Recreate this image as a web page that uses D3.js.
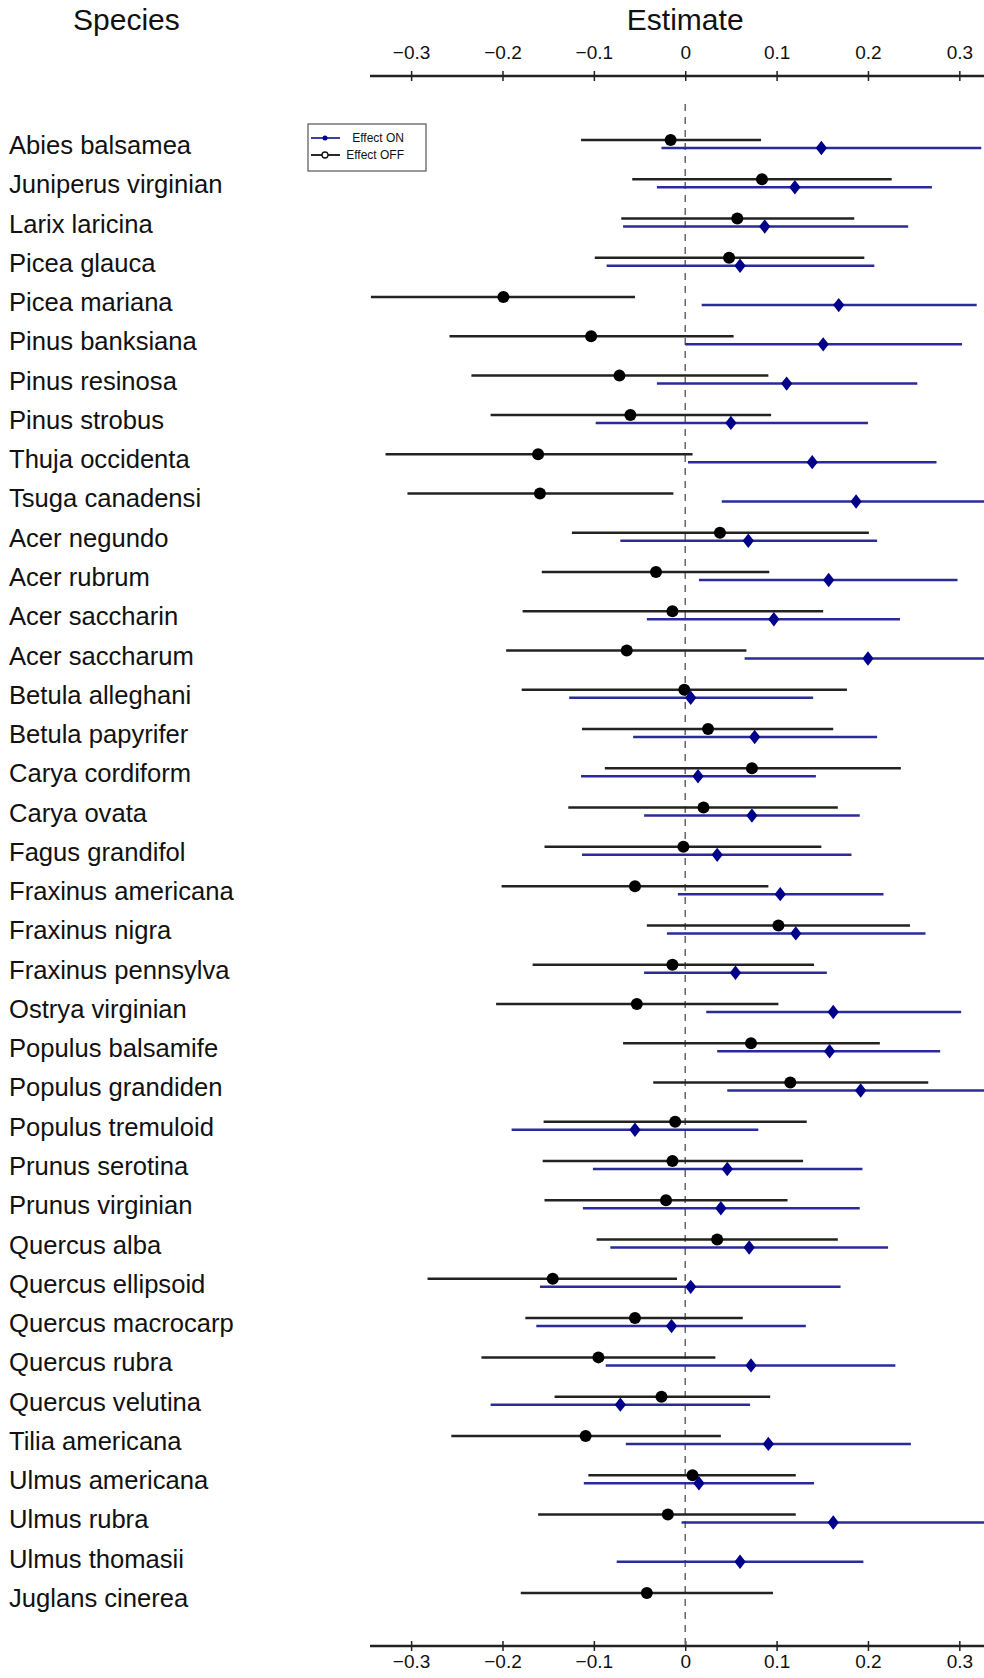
<!DOCTYPE html>
<html>
<head>
<meta charset="utf-8">
<script src="https://cdn.jsdelivr.net/npm/d3@7"></script>
<style>
  body { margin: 0; background: #fff; }
</style>
</head>
<body>
<div id="vis"></div>
<script>
const species = ['Abies balsamea', 'Juniperus virginian', 'Larix laricina', 'Picea glauca', 'Picea mariana',
    'Pinus banksiana', 'Pinus resinosa', 'Pinus strobus', 'Thuja occidenta', 'Tsuga canadensi',
    'Acer negundo', 'Acer rubrum', 'Acer saccharin', 'Acer saccharum', 'Betula alleghani',
    'Betula papyrifer', 'Carya cordiform', 'Carya ovata', 'Fagus grandifol', 'Fraxinus americana',
    'Fraxinus nigra', 'Fraxinus pennsylva', 'Ostrya virginian', 'Populus balsamife', 'Populus grandiden',
    'Populus tremuloid', 'Prunus serotina', 'Prunus virginian', 'Quercus alba', 'Quercus ellipsoid',
    'Quercus macrocarp', 'Quercus rubra', 'Quercus velutina', 'Tilia americana', 'Ulmus americana',
    'Ulmus rubra', 'Ulmus thomasii', 'Juglans cinerea'];

// Effect OFF (black circles)
const offEst = [-0.016, 0.084, 0.057, 0.048, -0.199, -0.103, -0.072, -0.060, -0.161, -0.159,
    0.038, -0.032, -0.014, -0.064, -0.001, 0.025, 0.073, 0.020, -0.002, -0.055,
    0.102, -0.014, -0.053, 0.072, 0.115, -0.011, -0.014, -0.021, 0.035, -0.145,
    -0.055, -0.095, -0.026, -0.109, 0.008, -0.019, null, -0.042];
const offLo = [-0.114, -0.058, -0.070, -0.099, -0.344, -0.258, -0.234, -0.213, -0.328, -0.304,
    -0.124, -0.157, -0.178, -0.196, -0.179, -0.113, -0.088, -0.128, -0.154, -0.201,
    -0.042, -0.167, -0.207, -0.068, -0.035, -0.155, -0.156, -0.154, -0.097, -0.282,
    -0.175, -0.223, -0.143, -0.256, -0.106, -0.161, null, -0.180];
const offHi = [0.083, 0.226, 0.185, 0.196, -0.055, 0.053, 0.091, 0.094, 0.008, -0.013,
    0.201, 0.092, 0.151, 0.067, 0.177, 0.162, 0.236, 0.167, 0.149, 0.091,
    0.246, 0.141, 0.102, 0.213, 0.266, 0.133, 0.129, 0.112, 0.167, -0.009,
    0.063, 0.033, 0.093, 0.039, 0.121, 0.121, null, 0.096];

// Effect ON (blue diamonds)
const onEst = [0.149, 0.120, 0.087, 0.060, 0.168, 0.151, 0.111, 0.050, 0.139, 0.187,
    0.069, 0.157, 0.097, 0.200, 0.006, 0.076, 0.014, 0.073, 0.035, 0.104,
    0.121, 0.055, 0.162, 0.158, 0.192, -0.055, 0.046, 0.039, 0.070, 0.006,
    -0.015, 0.072, -0.071, 0.091, 0.015, 0.162, 0.060, null];
const onLo = [-0.026, -0.031, -0.068, -0.086, 0.018, 0.000, -0.031, -0.098, 0.003, 0.040,
    -0.071, 0.015, -0.042, 0.065, -0.127, -0.057, -0.114, -0.045, -0.113, -0.008,
    -0.020, -0.045, 0.023, 0.035, 0.046, -0.190, -0.101, -0.112, -0.082, -0.159,
    -0.163, -0.087, -0.213, -0.065, -0.111, -0.004, -0.075, null];
const onHi = [0.324, 0.270, 0.244, 0.207, 0.319, 0.303, 0.254, 0.200, 0.275, 0.334,
    0.210, 0.298, 0.235, 0.335, 0.140, 0.210, 0.143, 0.191, 0.182, 0.217,
    0.263, 0.155, 0.302, 0.279, 0.338, 0.080, 0.194, 0.191, 0.222, 0.170,
    0.132, 0.230, 0.071, 0.247, 0.141, 0.328, 0.195, null];

const tickValues = [-0.3, -0.2, -0.1, 0, 0.1, 0.2, 0.3];

const width = 984, height = 1678;
const font = '"Liberation Sans", Arial, Helvetica, sans-serif';

var svg = d3.select("#vis").append("svg")
    .attr("width", width)
    .attr("height", height)
    .style("font-family", font);

var x = d3.scaleLinear().domain([-0.345, 0.327]).range([370, 984]);
var y = d3.scalePoint().domain(species).range([144, 1597]);

const topY = 76, bottomY = 1646;

// titles
svg.append("text").attr("x", 73).attr("y", 30)
    .style("font-size", "30px").attr("fill", "#111").text("Species");
svg.append("text").attr("x", x(0)).attr("y", 30)
    .attr("text-anchor", "middle")
    .style("font-size", "30px").attr("fill", "#111").text("Estimate");

// axes: line with ticks crossing it
function drawAxis(ypos, axisFn, pad) {
    var g = svg.append("g")
        .attr("transform", "translate(0," + ypos + ")")
        .call(axisFn(x).tickValues(tickValues).tickFormat(d3.format("")).tickSize(5).tickPadding(pad));
    g.select(".domain").remove();
    g.selectAll(".tick line").attr("y1", -5).attr("y2", 5)
        .attr("stroke", "#222").attr("stroke-width", 1.5);
    g.selectAll(".tick text")
        .style("font-size", "19px").style("font-family", font).attr("fill", "#111");
    g.append("line")
        .attr("x1", x.range()[0]).attr("x2", x.range()[1])
        .attr("stroke", "#222").attr("stroke-width", 2.5);
}
drawAxis(topY, d3.axisTop, 12);
drawAxis(bottomY, d3.axisBottom, 4);

// zero reference line
svg.append("line")
    .attr("x1", x(0)).attr("x2", x(0))
    .attr("y1", 104).attr("y2", bottomY)
    .attr("stroke", "#666").attr("stroke-width", 1.5)
    .attr("stroke-dasharray", "7,6");

// species labels
svg.selectAll(".sp").data(species).enter().append("text")
    .attr("class", "sp")
    .attr("x", 9)
    .attr("y", d => y(d) + 10)
    .style("font-size", "25.6px")
    .attr("fill", "#111")
    .text(d => d);

const rows = species.map((s, i) => ({
    s: s,
    off: offEst[i] === null ? null : { est: offEst[i], lo: offLo[i], hi: offHi[i] },
    on: onEst[i] === null ? null : { est: onEst[i], lo: onLo[i], hi: onHi[i] }
}));

const offRows = rows.filter(d => d.off);
const onRows = rows.filter(d => d.on);
const blue = "#00008b";

// Effect OFF intervals
svg.selectAll(".offline").data(offRows).enter().append("line")
    .attr("x1", d => x(d.off.lo)).attr("x2", d => x(d.off.hi))
    .attr("y1", d => y(d.s) - 4).attr("y2", d => y(d.s) - 4)
    .attr("stroke", "#222").attr("stroke-width", 2.5);

// Effect ON intervals
svg.selectAll(".online").data(onRows).enter().append("line")
    .attr("x1", d => x(d.on.lo)).attr("x2", d => x(d.on.hi))
    .attr("y1", d => y(d.s) + 4).attr("y2", d => y(d.s) + 4)
    .attr("stroke", "#2a2a9a").attr("stroke-width", 2.5);

svg.selectAll(".offpt").data(offRows).enter().append("circle")
    .attr("cx", d => x(d.off.est)).attr("cy", d => y(d.s) - 4)
    .attr("r", 6).attr("fill", "#000");

svg.selectAll(".onpt").data(onRows).enter().append("path")
    .attr("d", d3.symbol().type(d3.symbolDiamond2).size(100))
    .attr("transform", d => "translate(" + x(d.on.est) + "," + (y(d.s) + 4) + ") scale(0.9,1.15)")
    .attr("fill", blue);

// legend
var leg = svg.append("g");
leg.append("rect").attr("x", 308).attr("y", 124).attr("width", 118).attr("height", 47)
    .attr("fill", "#fff").attr("stroke", "#555").attr("stroke-width", 1.2);
const legItems = [
    { label: "Effect ON", color: "#2a2a9a", y: 138, type: "on" },
    { label: "Effect OFF", color: "#111", y: 155, type: "off" }
];
legItems.forEach(d => {
    leg.append("line").attr("x1", 311).attr("x2", 340).attr("y1", d.y).attr("y2", d.y)
        .attr("stroke", d.color).attr("stroke-width", 1.8);
    if (d.type === "on") {
        leg.append("circle").attr("cx", 325).attr("cy", d.y).attr("r", 2.5).attr("fill", blue);
    } else {
        leg.append("circle").attr("cx", 325).attr("cy", d.y).attr("r", 3)
            .attr("fill", "#fff").attr("stroke", "#111").attr("stroke-width", 1.3);
    }
    leg.append("text").attr("x", 404).attr("y", d.y + 4)
        .attr("text-anchor", "end")
        .style("font-size", "12px").attr("fill", "#111").text(d.label);
});
</script>
</body>
</html>
